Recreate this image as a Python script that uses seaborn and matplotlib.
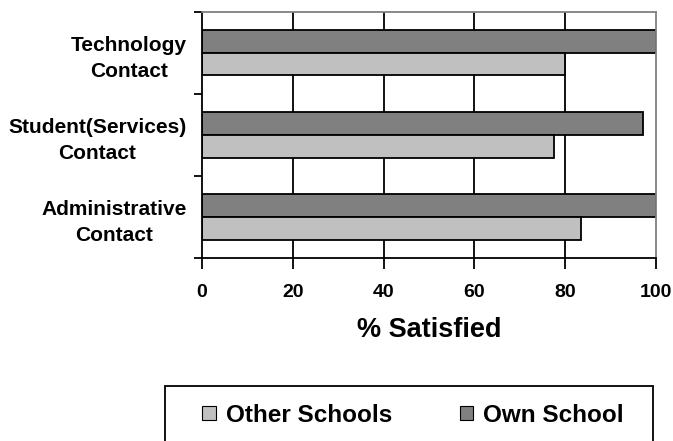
import matplotlib
matplotlib.use('Agg')
import matplotlib.pyplot as plt
import matplotlib.patches as mpatches
import seaborn as sns
import pandas as pd

sns.set_theme(style='white')
plt.rcParams['font.family'] = ['Liberation Sans', 'DejaVu Sans']
plt.rcParams['font.weight'] = 'bold'
for key in ['text.color', 'axes.labelcolor', 'xtick.color', 'ytick.color']:
    plt.rcParams[key] = 'black'

# ── data ───────────────────────────────────────────────────────────────────────
categories = ['Technology\nContact', 'Student(Services)\nContact', 'Administrative\nContact']
own_school = [100, 97, 100]
other_schools = [80, 77.5, 83.5]
series = ['Own School', 'Other Schools']
colors = {'Own School': '#808080', 'Other Schools': '#c0c0c0'}

df = pd.DataFrame({
    'category': categories * 2,
    'value': own_school + other_schools,
    'series': [series[0]] * 3 + [series[1]] * 3,
})

fig = plt.figure(figsize=(6.73, 4.41), dpi=100)
ax = fig.add_axes([0.300, 0.415, 0.675, 0.558])

# gridlines behind bars
for x in [20, 40, 60, 80]:
    ax.axvline(x, color='black', linewidth=1.3, zorder=0)

sns.barplot(data=df, y='category', x='value', hue='series', hue_order=series,
            order=categories, orient='h', palette=colors, width=0.55,
            edgecolor='black', linewidth=1.3, ax=ax, legend=False, zorder=2)

ax.set_xlim(0, 100)
ax.set_ylim(2.5, -0.5)
ax.set_xticks([0, 20, 40, 60, 80, 100])
ax.set_xticklabels(['0', '20', '40', '60', '80', '100'], fontsize=14, fontweight='bold')
ax.set_yticks(range(3))
ax.set_yticklabels(categories, fontsize=15, fontweight='bold', ha='right',
                   multialignment='center', linespacing=1.5)
ax.tick_params(axis='y', which='major', length=0, pad=11)
ax.set_yticks([-0.5, 0.5, 1.5, 2.5], minor=True)
ax.tick_params(axis='y', which='minor', length=6, width=1.3, color='black', left=True)
ax.tick_params(axis='x', which='major', length=8, width=1.3, color='black', bottom=True, pad=11)
ax.set_xlabel('% Satisfied', fontsize=19.5, fontweight='bold', labelpad=11)
ax.set_ylabel('')

for side in ['left', 'bottom']:
    ax.spines[side].set_color('black')
    ax.spines[side].set_linewidth(1.3)
for side in ['top', 'right']:
    ax.spines[side].set_color('#808080')
    ax.spines[side].set_linewidth(1.3)

# legend box
box = mpatches.Rectangle((165 / 673, -0.05), 488 / 673, 0.05 + 55 / 441,
                         transform=fig.transFigure, facecolor='white',
                         edgecolor='black', linewidth=1.3)
fig.patches.append(box)

handles = [mpatches.Patch(facecolor=colors['Other Schools'], edgecolor='black', linewidth=0.8, label='Other Schools'),
           mpatches.Patch(facecolor=colors['Own School'], edgecolor='black', linewidth=0.8, label='Own School')]
fig.legend(handles=handles, loc='center', ncol=2,
           bbox_to_anchor=(413 / 673, 1 - 415 / 441),
           prop={'size': 17.5, 'weight': 'bold'}, frameon=False,
           handlelength=0.55, handleheight=0.55, handletextpad=0.4,
           columnspacing=2.8, borderpad=0)

plt.savefig('out.png', dpi=100)
